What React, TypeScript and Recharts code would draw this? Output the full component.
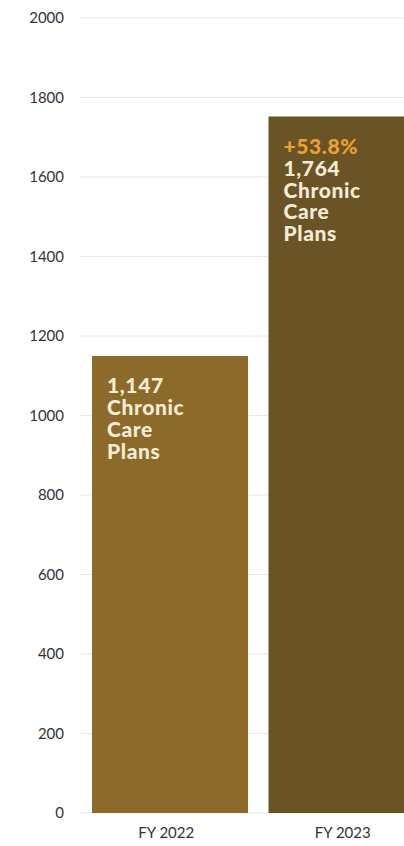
import { BarChart, Bar, XAxis, YAxis, CartesianGrid, Cell, LabelList } from 'recharts';

const years = ['FY 2022', 'FY 2023'];
const plans = [1150, 1752];
const planLabels = ['1,147', '1,764'];
const changeLabels = ['', '+53.8%'];
const barColors = ['#8c6a2a', '#6a5325'];
const yTicks = [0, 200, 400, 600, 800, 1000, 1200, 1400, 1600, 1800, 2000];

const data = years.map((year, i) => ({
  year,
  plans: plans[i],
  label: planLabels[i],
  change: changeLabels[i],
}));

const FONT = 'Lato, "Noto Sans", sans-serif';

function BarText(props: any) {
  const { x, y, index } = props;
  const d = data[index];
  const lines: Array<{ text: string; color: string }> = [];
  if (d.change) lines.push({ text: d.change, color: '#e8a232' });
  lines.push({ text: d.label, color: '#f4ecd6' });
  lines.push({ text: 'Chronic', color: '#f4ecd6' });
  lines.push({ text: 'Care', color: '#f4ecd6' });
  lines.push({ text: 'Plans', color: '#f4ecd6' });
  return (
    <g>
      {lines.map((l, i) => (
        <text
          key={i}
          x={x + 15}
          y={y + 37.5 + i * 21.8}
          fill={l.color}
          fontFamily={FONT}
          fontWeight={900}
          fontSize={21}
          letterSpacing={0.6}
        >
          {l.text}
        </text>
      ))}
    </g>
  );
}

export default function App() {
  return (
    <div
      style={{
        position: 'fixed',
        left: 0,
        top: 0,
        width: 404,
        height: 846,
        overflow: 'hidden',
        background: '#fff',
      }}
    >
      <BarChart
        width={435}
        height={846}
        data={data}
        margin={{ top: 18, right: 0, left: 0, bottom: 3 }}
      >
        <CartesianGrid vertical={false} stroke="#e8e8e8" />
        <XAxis
          dataKey="year"
          height={30}
          padding={{ left: 2, right: 0 }}
          axisLine={false}
          tickLine={false}
          tickMargin={8}
          tick={{ fontSize: 15, fill: '#333', fontFamily: FONT, dx: -4 }}
        />
        <YAxis
          width={80}
          domain={[0, 2000]}
          ticks={yTicks}
          axisLine={false}
          tickLine={false}
          tickMargin={10}
          tick={{ fontSize: 15, fill: '#333', fontFamily: FONT }}
        />
        <Bar dataKey="plans" barSize={156} isAnimationActive={false}>
          {data.map((d, i) => (
            <Cell key={d.year} fill={barColors[i]} />
          ))}
          <LabelList dataKey="label" content={<BarText />} />
        </Bar>
      </BarChart>
    </div>
  );
}
